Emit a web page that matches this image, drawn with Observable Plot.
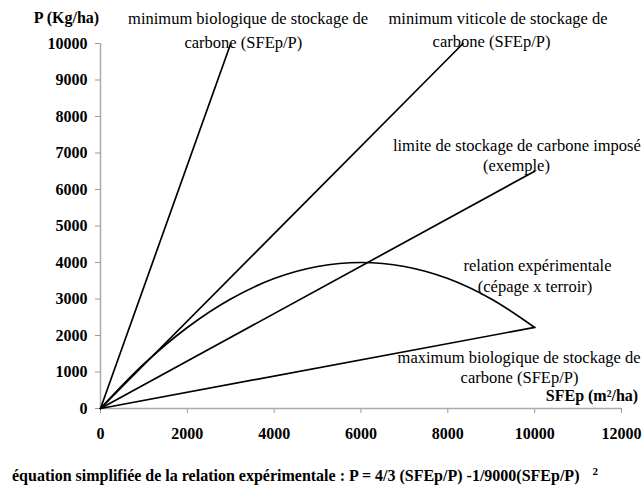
<!DOCTYPE html>
<html>
<head>
<meta charset="utf-8">
<script src="https://cdn.jsdelivr.net/npm/d3@7"></script>
<script src="https://cdn.jsdelivr.net/npm/@observablehq/plot@0.6"></script>
<style>
  html, body { margin: 0; padding: 0; background: #fff; overflow: hidden; width: 644px; height: 488px; }
  #chart svg { display: block; overflow: hidden; }
  #chart svg, #chart svg text { font-family: "Liberation Serif", serif !important; }
  #caption { font-family: "Liberation Serif", serif; font-weight: bold; font-size: 16px; line-height: 20px; margin-top: 6px; padding-left: 12px; white-space: nowrap; color: #000; }
  #caption sup { font-size: 11px; margin-left: 13px; vertical-align: 6px; line-height: 0; }
</style>
</head>
<body>
<div id="chart"></div>
<div id="caption">équation simplifiée de la relation expérimentale : P = 4/3 (SFEp/P) -1/9000(SFEp/P)<sup>2</sup></div>
<script>
// Straight lines from the origin: end point of each line
const lineNames = ["minimum biologique", "minimum viticole", "limite imposée", "maximum biologique"];
const lineEndX = [3000, 8350, 10000, 10000];
const lineEndY = [10000, 10000, 6500, 2222];

const curveX = [0, 1000, 2000, 3000, 4000, 5000, 6000, 7000, 8000, 9000, 10000];
const curveY = [0, 1220, 2220, 3000, 3560, 3890, 4000, 3890, 3560, 3000, 2220];

// Tick values
const xTicks = [0, 2000, 4000, 6000, 8000, 10000, 12000];
const yTicks = [0, 1000, 2000, 3000, 4000, 5000, 6000, 7000, 8000, 9000, 10000];

// Annotation texts and their anchor positions (data units)
const labelText = [
  "minimum biologique de stockage de", "carbone (SFEp/P)",
  "minimum viticole de stockage de", "carbone (SFEp/P)",
  "limite de stockage de carbone imposé", "(exemple)",
  "relation expérimentale", "(cépage x terroir)",
  "maximum biologique de stockage de", "carbone (SFEp/P)"
];
const labelX = [3400, 3290, 9155, 9006, 9590, 9581, 10065, 10008, 9640, 9651];
const labelY = [10690, 10030, 10690, 10050, 7200, 6660, 3920, 3340, 1400, 850];

// Axis titles
const axisTitleText = ["P (Kg/ha)", "SFEp (m²/ha)"];
const axisTitleX = [-783, 11320];
const axisTitleY = [10712, 356];

const segments = lineNames.flatMap((n, i) => [
  {name: n, x: 0, y: 0},
  {name: n, x: lineEndX[i], y: lineEndY[i]}
]);
const curve = curveX.map((x, i) => ({x, y: curveY[i]}));
const labels = labelText.map((t, i) => ({t, x: labelX[i], y: labelY[i]}));
const titles = axisTitleText.map((t, i) => ({t, x: axisTitleX[i], y: axisTitleY[i]}));

const font = "Liberation Serif";
const chart = Plot.plot({
  width: 644,
  height: 460,
  marginLeft: 100,
  marginRight: 23,
  marginTop: 43,
  marginBottom: 52,
  style: {fontFamily: font, background: "#fff", color: "#000"},
  x: {domain: [0, 12000]},
  y: {domain: [0, 10000]},
  marks: [
    Plot.axisX({ticks: xTicks, tickSize: 5, tickPadding: 14, tickFormat: d => String(d), label: null, fontSize: 16, fontWeight: "bold", fontFamily: font, stroke: "#999", fill: "#000"}),
    Plot.axisY({ticks: yTicks, tickSize: 5, tickPadding: 8, tickFormat: d => String(d), label: null, fontSize: 16, fontWeight: "bold", fontFamily: font, stroke: "#999", fill: "#000"}),
    Plot.ruleY([0], {stroke: "#aaa", strokeWidth: 1.5}),
    Plot.ruleX([0], {stroke: "#aaa", strokeWidth: 1.5}),
    Plot.line(segments, {x: "x", y: "y", z: "name", stroke: "#000", strokeWidth: 1.7}),
    Plot.line(curve, {x: "x", y: "y", stroke: "#000", strokeWidth: 1.7, curve: "catmull-rom"}),
    Plot.text(labels, {x: "x", y: "y", text: "t", fontSize: 16.5, fontFamily: font, fill: "#000", textAnchor: "middle"}),
    Plot.text(titles, {x: "x", y: "y", text: "t", fontSize: 16, fontWeight: "bold", fontFamily: font, fill: "#000", textAnchor: "middle"})
  ]
});
document.getElementById("chart").appendChild(chart);
</script>
</body>
</html>
